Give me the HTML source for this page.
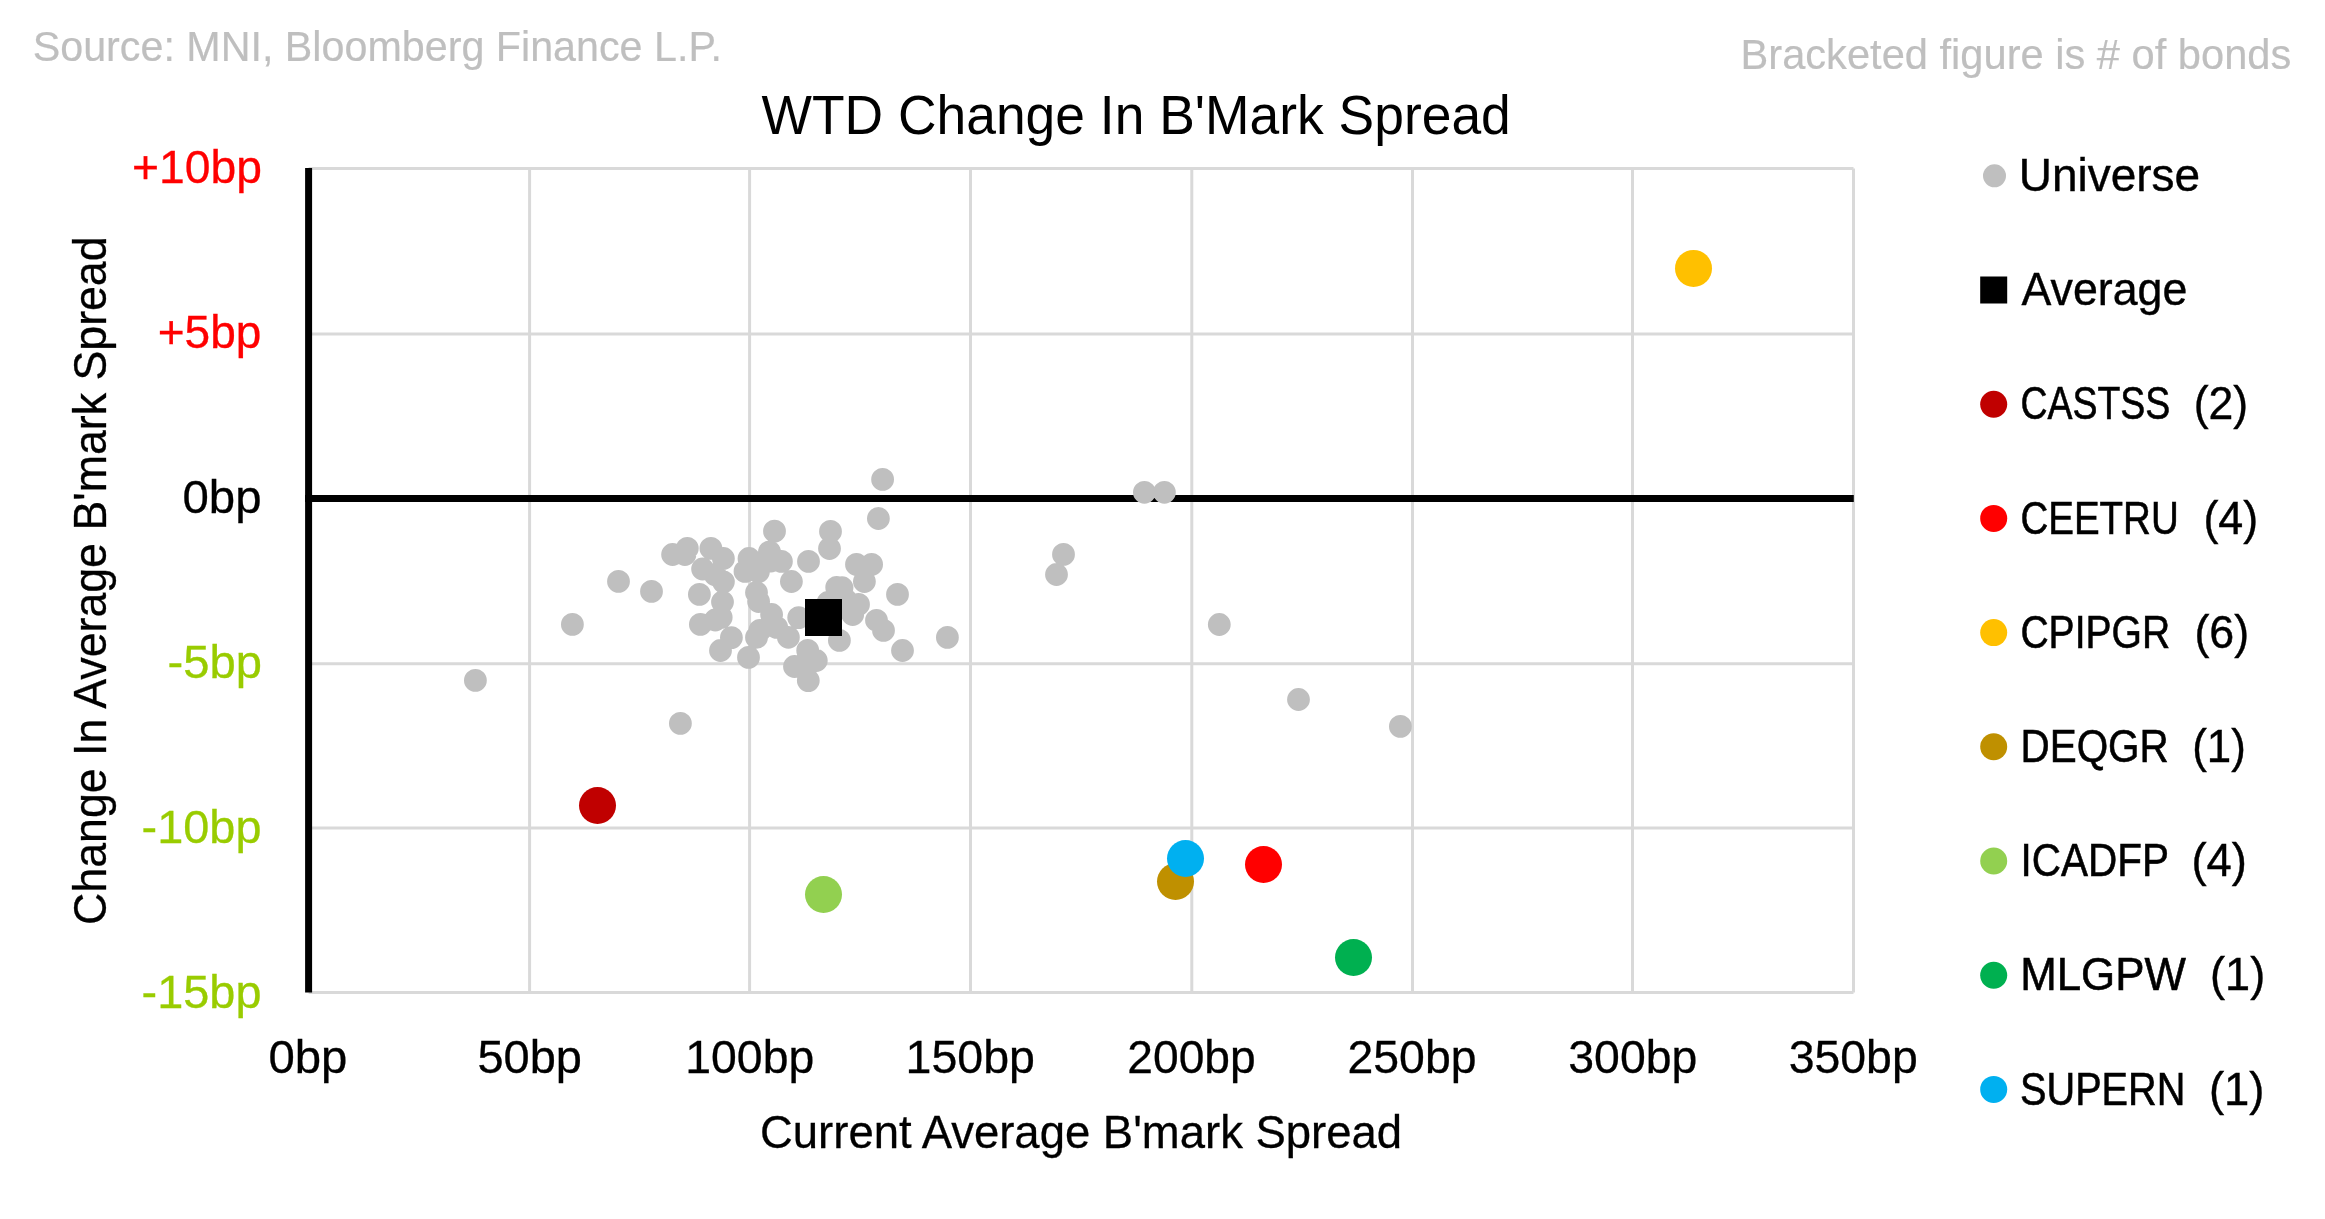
<!DOCTYPE html>
<html><head><meta charset="utf-8"><style>
html,body{margin:0;padding:0;background:#fff;width:2325px;height:1219px;overflow:hidden}
svg{display:block}
text{font-family:"Liberation Sans",sans-serif}
svg{will-change:transform}

</style></head><body>
<svg width="2325" height="1219" viewBox="0 0 2325 1219">
<rect width="2325" height="1219" fill="#fff"/>
<line x1="529.6" y1="168.5" x2="529.6" y2="992.5" stroke="#d9d9d9" stroke-width="3"/>
<line x1="749.6" y1="168.5" x2="749.6" y2="992.5" stroke="#d9d9d9" stroke-width="3"/>
<line x1="970.5" y1="168.5" x2="970.5" y2="992.5" stroke="#d9d9d9" stroke-width="3"/>
<line x1="1191.8" y1="168.5" x2="1191.8" y2="992.5" stroke="#d9d9d9" stroke-width="3"/>
<line x1="1412.5" y1="168.5" x2="1412.5" y2="992.5" stroke="#d9d9d9" stroke-width="3"/>
<line x1="1632.5" y1="168.5" x2="1632.5" y2="992.5" stroke="#d9d9d9" stroke-width="3"/>
<line x1="1853.5" y1="168.5" x2="1853.5" y2="992.5" stroke="#d9d9d9" stroke-width="3"/>
<line x1="308.6" y1="168.5" x2="1853.5" y2="168.5" stroke="#d9d9d9" stroke-width="3"/>
<line x1="308.6" y1="333.9" x2="1853.5" y2="333.9" stroke="#d9d9d9" stroke-width="3"/>
<line x1="308.6" y1="663.7" x2="1853.5" y2="663.7" stroke="#d9d9d9" stroke-width="3"/>
<line x1="308.6" y1="827.9" x2="1853.5" y2="827.9" stroke="#d9d9d9" stroke-width="3"/>
<line x1="308.6" y1="992.5" x2="1853.5" y2="992.5" stroke="#d9d9d9" stroke-width="3"/>
<line x1="308.6" y1="168" x2="308.6" y2="992.6" stroke="#000" stroke-width="7"/>
<line x1="305" y1="498.45" x2="1853.8" y2="498.45" stroke="#000" stroke-width="7"/>
<path fill="#bfbfbf" d="M464.00,680.40a11.4,11.4 0 1,0 22.80,0a11.4,11.4 0 1,0 -22.80,0Z M561.00,624.40a11.4,11.4 0 1,0 22.80,0a11.4,11.4 0 1,0 -22.80,0Z M607.10,581.40a11.4,11.4 0 1,0 22.80,0a11.4,11.4 0 1,0 -22.80,0Z M640.10,591.40a11.4,11.4 0 1,0 22.80,0a11.4,11.4 0 1,0 -22.80,0Z M669.00,723.40a11.4,11.4 0 1,0 22.80,0a11.4,11.4 0 1,0 -22.80,0Z M871.20,479.40a11.4,11.4 0 1,0 22.80,0a11.4,11.4 0 1,0 -22.80,0Z M867.00,518.50a11.4,11.4 0 1,0 22.80,0a11.4,11.4 0 1,0 -22.80,0Z M936.00,637.40a11.4,11.4 0 1,0 22.80,0a11.4,11.4 0 1,0 -22.80,0Z M1045.10,574.50a11.4,11.4 0 1,0 22.80,0a11.4,11.4 0 1,0 -22.80,0Z M1052.10,554.40a11.4,11.4 0 1,0 22.80,0a11.4,11.4 0 1,0 -22.80,0Z M1133.00,492.30a11.4,11.4 0 1,0 22.80,0a11.4,11.4 0 1,0 -22.80,0Z M1153.00,492.30a11.4,11.4 0 1,0 22.80,0a11.4,11.4 0 1,0 -22.80,0Z M1207.90,624.50a11.4,11.4 0 1,0 22.80,0a11.4,11.4 0 1,0 -22.80,0Z M1287.10,699.50a11.4,11.4 0 1,0 22.80,0a11.4,11.4 0 1,0 -22.80,0Z M1389.00,726.40a11.4,11.4 0 1,0 22.80,0a11.4,11.4 0 1,0 -22.80,0Z M661.20,554.50a11.4,11.4 0 1,0 22.80,0a11.4,11.4 0 1,0 -22.80,0Z M673.50,554.50a11.4,11.4 0 1,0 22.80,0a11.4,11.4 0 1,0 -22.80,0Z M675.90,548.30a11.4,11.4 0 1,0 22.80,0a11.4,11.4 0 1,0 -22.80,0Z M699.50,548.30a11.4,11.4 0 1,0 22.80,0a11.4,11.4 0 1,0 -22.80,0Z M712.00,558.50a11.4,11.4 0 1,0 22.80,0a11.4,11.4 0 1,0 -22.80,0Z M691.20,569.00a11.4,11.4 0 1,0 22.80,0a11.4,11.4 0 1,0 -22.80,0Z M703.70,574.60a11.4,11.4 0 1,0 22.80,0a11.4,11.4 0 1,0 -22.80,0Z M712.00,581.80a11.4,11.4 0 1,0 22.80,0a11.4,11.4 0 1,0 -22.80,0Z M688.00,594.40a11.4,11.4 0 1,0 22.80,0a11.4,11.4 0 1,0 -22.80,0Z M711.10,602.00a11.4,11.4 0 1,0 22.80,0a11.4,11.4 0 1,0 -22.80,0Z M763.10,531.20a11.4,11.4 0 1,0 22.80,0a11.4,11.4 0 1,0 -22.80,0Z M819.10,531.40a11.4,11.4 0 1,0 22.80,0a11.4,11.4 0 1,0 -22.80,0Z M818.10,548.50a11.4,11.4 0 1,0 22.80,0a11.4,11.4 0 1,0 -22.80,0Z M797.10,561.40a11.4,11.4 0 1,0 22.80,0a11.4,11.4 0 1,0 -22.80,0Z M758.10,551.90a11.4,11.4 0 1,0 22.80,0a11.4,11.4 0 1,0 -22.80,0Z M770.00,561.40a11.4,11.4 0 1,0 22.80,0a11.4,11.4 0 1,0 -22.80,0Z M737.60,558.50a11.4,11.4 0 1,0 22.80,0a11.4,11.4 0 1,0 -22.80,0Z M733.60,571.40a11.4,11.4 0 1,0 22.80,0a11.4,11.4 0 1,0 -22.80,0Z M759.60,561.00a11.4,11.4 0 1,0 22.80,0a11.4,11.4 0 1,0 -22.80,0Z M747.00,571.70a11.4,11.4 0 1,0 22.80,0a11.4,11.4 0 1,0 -22.80,0Z M745.10,592.50a11.4,11.4 0 1,0 22.80,0a11.4,11.4 0 1,0 -22.80,0Z M780.00,581.50a11.4,11.4 0 1,0 22.80,0a11.4,11.4 0 1,0 -22.80,0Z M825.30,587.30a11.4,11.4 0 1,0 22.80,0a11.4,11.4 0 1,0 -22.80,0Z M830.60,587.70a11.4,11.4 0 1,0 22.80,0a11.4,11.4 0 1,0 -22.80,0Z M845.10,564.40a11.4,11.4 0 1,0 22.80,0a11.4,11.4 0 1,0 -22.80,0Z M860.20,564.40a11.4,11.4 0 1,0 22.80,0a11.4,11.4 0 1,0 -22.80,0Z M853.00,581.50a11.4,11.4 0 1,0 22.80,0a11.4,11.4 0 1,0 -22.80,0Z M886.10,594.40a11.4,11.4 0 1,0 22.80,0a11.4,11.4 0 1,0 -22.80,0Z M819.60,602.00a11.4,11.4 0 1,0 22.80,0a11.4,11.4 0 1,0 -22.80,0Z M847.10,604.40a11.4,11.4 0 1,0 22.80,0a11.4,11.4 0 1,0 -22.80,0Z M841.30,614.50a11.4,11.4 0 1,0 22.80,0a11.4,11.4 0 1,0 -22.80,0Z M865.10,620.30a11.4,11.4 0 1,0 22.80,0a11.4,11.4 0 1,0 -22.80,0Z M872.10,630.40a11.4,11.4 0 1,0 22.80,0a11.4,11.4 0 1,0 -22.80,0Z M891.10,650.50a11.4,11.4 0 1,0 22.80,0a11.4,11.4 0 1,0 -22.80,0Z M828.00,640.40a11.4,11.4 0 1,0 22.80,0a11.4,11.4 0 1,0 -22.80,0Z M689.00,624.40a11.4,11.4 0 1,0 22.80,0a11.4,11.4 0 1,0 -22.80,0Z M703.90,620.00a11.4,11.4 0 1,0 22.80,0a11.4,11.4 0 1,0 -22.80,0Z M709.80,617.30a11.4,11.4 0 1,0 22.80,0a11.4,11.4 0 1,0 -22.80,0Z M720.00,637.60a11.4,11.4 0 1,0 22.80,0a11.4,11.4 0 1,0 -22.80,0Z M709.10,650.50a11.4,11.4 0 1,0 22.80,0a11.4,11.4 0 1,0 -22.80,0Z M747.20,601.50a11.4,11.4 0 1,0 22.80,0a11.4,11.4 0 1,0 -22.80,0Z M748.50,630.40a11.4,11.4 0 1,0 22.80,0a11.4,11.4 0 1,0 -22.80,0Z M745.10,637.40a11.4,11.4 0 1,0 22.80,0a11.4,11.4 0 1,0 -22.80,0Z M737.10,657.40a11.4,11.4 0 1,0 22.80,0a11.4,11.4 0 1,0 -22.80,0Z M760.20,614.50a11.4,11.4 0 1,0 22.80,0a11.4,11.4 0 1,0 -22.80,0Z M787.30,617.60a11.4,11.4 0 1,0 22.80,0a11.4,11.4 0 1,0 -22.80,0Z M765.30,627.40a11.4,11.4 0 1,0 22.80,0a11.4,11.4 0 1,0 -22.80,0Z M777.00,637.30a11.4,11.4 0 1,0 22.80,0a11.4,11.4 0 1,0 -22.80,0Z M796.30,650.40a11.4,11.4 0 1,0 22.80,0a11.4,11.4 0 1,0 -22.80,0Z M804.90,660.50a11.4,11.4 0 1,0 22.80,0a11.4,11.4 0 1,0 -22.80,0Z M783.10,666.50a11.4,11.4 0 1,0 22.80,0a11.4,11.4 0 1,0 -22.80,0Z M796.90,680.60a11.4,11.4 0 1,0 22.80,0a11.4,11.4 0 1,0 -22.80,0Z M816.60,602.50a11.4,11.4 0 1,0 22.80,0a11.4,11.4 0 1,0 -22.80,0Z M834.60,600.00a11.4,11.4 0 1,0 22.80,0a11.4,11.4 0 1,0 -22.80,0Z M794.60,668.00a11.4,11.4 0 1,0 22.80,0a11.4,11.4 0 1,0 -22.80,0Z"/>
<rect x="805" y="599" width="37" height="37" fill="#000"/>
<circle cx="1693.5" cy="268.4" r="18.5" fill="#ffc000"/>
<circle cx="597.5" cy="805.5" r="18.5" fill="#c00000"/>
<circle cx="823.5" cy="894.5" r="18.5" fill="#92d050"/>
<circle cx="1175.5" cy="881.5" r="18.5" fill="#bf9000"/>
<circle cx="1185.5" cy="858.5" r="18.5" fill="#00b0f0"/>
<circle cx="1263.5" cy="864.5" r="18.5" fill="#ff0000"/>
<circle cx="1353.5" cy="957.5" r="18.5" fill="#00b050"/>
<circle cx="1994.5" cy="175.8" r="11.5" fill="#bfbfbf"/>
<rect x="1980.2" y="276.5" width="27" height="27" fill="#000"/>
<circle cx="1993.7" cy="404.2" r="13.5" fill="#c00000"/>
<circle cx="1993.7" cy="518.4" r="13.5" fill="#ff0000"/>
<circle cx="1993.7" cy="632.6" r="13.5" fill="#ffc000"/>
<circle cx="1993.7" cy="746.8" r="13.5" fill="#bf9000"/>
<circle cx="1993.7" cy="861.0" r="13.5" fill="#92d050"/>
<circle cx="1993.7" cy="975.2" r="13.5" fill="#00b050"/>
<circle cx="1993.7" cy="1089.4" r="13.5" fill="#00b0f0"/>
<text x="32.7" y="60.6" font-size="42" fill="#bfbfbf" stroke="#bfbfbf" stroke-width="0.2" text-anchor="start" textLength="689.4" lengthAdjust="spacingAndGlyphs">Source: MNI, Bloomberg Finance L.P.</text>
<text x="1740.5" y="68.6" font-size="42" fill="#bfbfbf" stroke="#bfbfbf" stroke-width="0.2" text-anchor="start" textLength="550.8" lengthAdjust="spacingAndGlyphs">Bracketed figure is # of bonds</text>
<text x="761.5" y="133.7" font-size="55" fill="#000" stroke="#000" stroke-width="0" text-anchor="start" textLength="749.3" lengthAdjust="spacingAndGlyphs">WTD Change In B'Mark Spread</text>
<text x="132.1" y="183.3" font-size="46" fill="#ff0000" stroke="#ff0000" stroke-width="0.3" text-anchor="start" textLength="129.9" lengthAdjust="spacingAndGlyphs">+10bp</text>
<text x="157.7" y="348.3" font-size="46" fill="#ff0000" stroke="#ff0000" stroke-width="0.3" text-anchor="start" textLength="103.7" lengthAdjust="spacingAndGlyphs">+5bp</text>
<text x="182.5" y="513.3" font-size="46" fill="#000" stroke="#000" stroke-width="0.3" text-anchor="start" textLength="79.1" lengthAdjust="spacingAndGlyphs">0bp</text>
<text x="167.5" y="678.3" font-size="46" fill="#99cc00" stroke="#99cc00" stroke-width="0.3" text-anchor="start" textLength="94.4" lengthAdjust="spacingAndGlyphs">-5bp</text>
<text x="141.6" y="842.8" font-size="46" fill="#99cc00" stroke="#99cc00" stroke-width="0.3" text-anchor="start" textLength="119.9" lengthAdjust="spacingAndGlyphs">-10bp</text>
<text x="141.6" y="1007.5" font-size="46" fill="#99cc00" stroke="#99cc00" stroke-width="0.3" text-anchor="start" textLength="119.9" lengthAdjust="spacingAndGlyphs">-15bp</text>
<text x="268.4" y="1073.0" font-size="46" fill="#000" stroke="#000" stroke-width="0.3" text-anchor="start" textLength="79.0" lengthAdjust="spacingAndGlyphs">0bp</text>
<text x="477.4" y="1073.0" font-size="46" fill="#000" stroke="#000" stroke-width="0.3" text-anchor="start" textLength="104.5" lengthAdjust="spacingAndGlyphs">50bp</text>
<text x="685.3" y="1073.0" font-size="46" fill="#000" stroke="#000" stroke-width="0.3" text-anchor="start" textLength="128.9" lengthAdjust="spacingAndGlyphs">100bp</text>
<text x="905.5" y="1073.0" font-size="46" fill="#000" stroke="#000" stroke-width="0.3" text-anchor="start" textLength="129.4" lengthAdjust="spacingAndGlyphs">150bp</text>
<text x="1127.3" y="1073.0" font-size="46" fill="#000" stroke="#000" stroke-width="0.3" text-anchor="start" textLength="128.4" lengthAdjust="spacingAndGlyphs">200bp</text>
<text x="1347.5" y="1073.0" font-size="46" fill="#000" stroke="#000" stroke-width="0.3" text-anchor="start" textLength="129.0" lengthAdjust="spacingAndGlyphs">250bp</text>
<text x="1568.3" y="1073.0" font-size="46" fill="#000" stroke="#000" stroke-width="0.3" text-anchor="start" textLength="129.0" lengthAdjust="spacingAndGlyphs">300bp</text>
<text x="1788.7" y="1073.0" font-size="46" fill="#000" stroke="#000" stroke-width="0.3" text-anchor="start" textLength="129.0" lengthAdjust="spacingAndGlyphs">350bp</text>
<text x="760.0" y="1148.0" font-size="46" fill="#000" stroke="#000" stroke-width="0.3" text-anchor="start" textLength="642.1" lengthAdjust="spacingAndGlyphs">Current Average B'mark Spread</text>
<text transform="translate(105.8,924.9) rotate(-90)" x="0" y="0" font-size="46" fill="#000" stroke="#000" stroke-width="0.3" textLength="688.5" lengthAdjust="spacingAndGlyphs">Change In Average B'mark Spread</text>
<text x="2018.7" y="191.0" font-size="46" fill="#000" stroke="#000" stroke-width="0.4" text-anchor="start" textLength="181.4" lengthAdjust="spacingAndGlyphs">Universe</text>
<text x="2021.5" y="305.2" font-size="46" fill="#000" stroke="#000" stroke-width="0.4" text-anchor="start" textLength="165.8" lengthAdjust="spacingAndGlyphs">Average</text>
<text x="2020.5" y="419.4" font-size="46" fill="#000" stroke="#000" stroke-width="0.6" text-anchor="start" textLength="149.8" lengthAdjust="spacingAndGlyphs">CASTSS</text>
<text x="2193.7" y="419.4" font-size="46" fill="#000" stroke="#000" stroke-width="0.4" text-anchor="start" textLength="54.5" lengthAdjust="spacingAndGlyphs">(2)</text>
<text x="2020.4" y="533.6" font-size="46" fill="#000" stroke="#000" stroke-width="0.6" text-anchor="start" textLength="158.3" lengthAdjust="spacingAndGlyphs">CEETRU</text>
<text x="2203.4" y="533.6" font-size="46" fill="#000" stroke="#000" stroke-width="0.4" text-anchor="start" textLength="54.8" lengthAdjust="spacingAndGlyphs">(4)</text>
<text x="2020.4" y="647.8" font-size="46" fill="#000" stroke="#000" stroke-width="0.6" text-anchor="start" textLength="149.8" lengthAdjust="spacingAndGlyphs">CPIPGR</text>
<text x="2194.4" y="647.8" font-size="46" fill="#000" stroke="#000" stroke-width="0.4" text-anchor="start" textLength="54.7" lengthAdjust="spacingAndGlyphs">(6)</text>
<text x="2020.5" y="762.0" font-size="46" fill="#000" stroke="#000" stroke-width="0.6" text-anchor="start" textLength="148.2" lengthAdjust="spacingAndGlyphs">DEQGR</text>
<text x="2192.2" y="762.0" font-size="46" fill="#000" stroke="#000" stroke-width="0.4" text-anchor="start" textLength="53.6" lengthAdjust="spacingAndGlyphs">(1)</text>
<text x="2020.5" y="876.2" font-size="46" fill="#000" stroke="#000" stroke-width="0.6" text-anchor="start" textLength="148.5" lengthAdjust="spacingAndGlyphs">ICADFP</text>
<text x="2191.5" y="876.2" font-size="46" fill="#000" stroke="#000" stroke-width="0.4" text-anchor="start" textLength="55.5" lengthAdjust="spacingAndGlyphs">(4)</text>
<text x="2020.2" y="990.4" font-size="46" fill="#000" stroke="#000" stroke-width="0.6" text-anchor="start" textLength="165.6" lengthAdjust="spacingAndGlyphs">MLGPW</text>
<text x="2210.1" y="990.4" font-size="46" fill="#000" stroke="#000" stroke-width="0.4" text-anchor="start" textLength="55.1" lengthAdjust="spacingAndGlyphs">(1)</text>
<text x="2020.0" y="1104.6" font-size="46" fill="#000" stroke="#000" stroke-width="0.6" text-anchor="start" textLength="165.4" lengthAdjust="spacingAndGlyphs">SUPERN</text>
<text x="2208.9" y="1104.6" font-size="46" fill="#000" stroke="#000" stroke-width="0.4" text-anchor="start" textLength="55.5" lengthAdjust="spacingAndGlyphs">(1)</text>
</svg>
</body></html>
